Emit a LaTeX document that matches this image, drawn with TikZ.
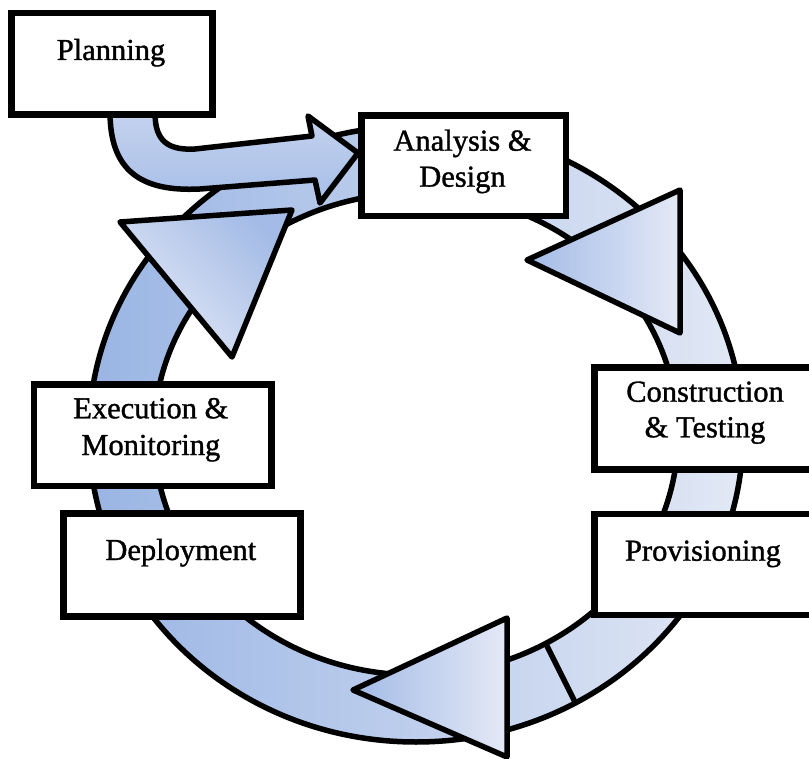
\documentclass[tikz,border=0pt]{standalone}
\usepackage{fontspec}
\setmainfont{Liberation Serif}
\newfontfamily\lblfont[FakeBold=1.2]{Liberation Serif}
\definecolor{ringdark}{HTML}{9AB5E4}
\definecolor{ringlight}{HTML}{E2E8F5}
\definecolor{tridark}{HTML}{A3BBE6}
\definecolor{trilight}{HTML}{E4E9F6}
\definecolor{arrowtop}{HTML}{C8D5EF}
\definecolor{arrowbot}{HTML}{A7BEE8}
\begin{document}
\begin{tikzpicture}[x=1pt,y=-1pt,
  ringline/.style={draw=black, line width=5.5pt, line join=round},
  stagebox/.style={draw=black, line width=6.5pt, fill=white, inner sep=0pt},
  lbl/.style={font=\lblfont\fontsize{30.5}{36}\selectfont, inner sep=0pt, anchor=base},
]
\clip (0,0) rectangle (809,759);
\fill[white] (0,0) rectangle (809,759);

% the cycle ring
\shade[even odd rule, left color=ringdark, right color=ringlight]
  (416,434) ellipse [x radius=327pt, y radius=308pt]
  (416,434) ellipse [x radius=262pt, y radius=241pt];
\draw[ringline] (416,434) ellipse [x radius=327pt, y radius=308pt];
\draw[ringline] (416,434) ellipse [x radius=262pt, y radius=241pt];

% segment joint below Provisioning
\draw[ringline] (545,642) -- (576,704);

% arrow heads on the ring
\shadedraw[ringline, left color=trilight, right color=tridark, shading angle=135]
  (120,222) -- (292,210) -- (232,357) -- cycle;
\shadedraw[ringline, left color=tridark, right color=trilight]
  (527,260) -- (680,190) -- (680,333) -- cycle;
\shadedraw[ringline, left color=tridark, right color=trilight]
  (353,690) -- (507,618) -- (507,757) -- cycle;

% entry arrow from Planning
\shadedraw[ringline, top color=arrowtop, bottom color=arrowbot]
  (110,100) -- (110,112) .. controls (110,170) and (140,192) .. (200,189)
  -- (315,180) -- (320,203) -- (358,153) -- (308,116) -- (312,136)
  -- (195,149) .. controls (162,151) and (155,135) .. (155,112)
  -- (155,100) -- cycle;

% stage boxes
\node[stagebox, minimum width=201pt, minimum height=101.5pt] (plan) at (112,63.75) {};
\node[stagebox, minimum width=204.5pt, minimum height=100.5pt] (ad) at (463.75,165.75) {};
\node[stagebox, minimum width=237.5pt, minimum height=102pt] (ct) at (713.25,418.3) {};
\node[stagebox, minimum width=237.5pt, minimum height=101pt] (prov) at (713.25,564.5) {};
\node[stagebox, minimum width=237.7pt, minimum height=101.5pt] (em) at (152.85,435.25) {};
\node[stagebox, minimum width=236.6pt, minimum height=103pt] (dep) at (182,564.8) {};

% labels
\node[lbl] (plant) at (111,60) {Planning};
\node[lbl] (ad1) at (462.5,150.7) {Analysis \&};
\node[lbl] (ad2) at (462.5,186.7) {Design};
\node[lbl] (ct1) at (705,401.7) {Construction};
\node[lbl] (ct2) at (705,437.3) {\& Testing};
\node[lbl] (provt) at (703,560.7) {Provisioning};
\node[lbl] (em1) at (150.8,418.3) {Execution \&};
\node[lbl] (em2) at (150.8,455) {Monitoring};
\node[lbl] (dept) at (180.8,560) {Deployment};
\end{tikzpicture}
\end{document}
